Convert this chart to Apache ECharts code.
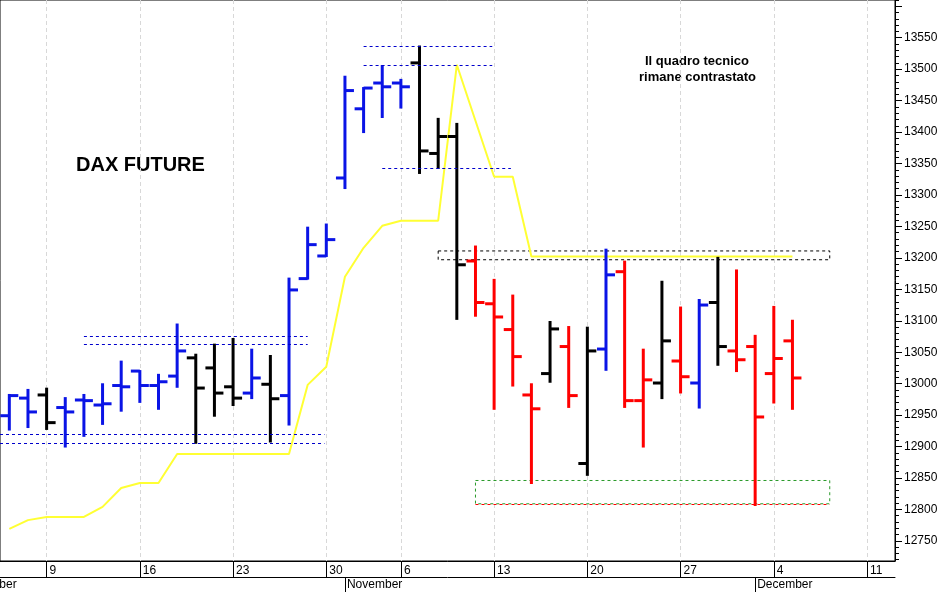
<!DOCTYPE html>
<html>
<head>
<meta charset="utf-8">
<script src="https://cdn.jsdelivr.net/npm/echarts@6/dist/echarts.min.js"></script>
<style>
html,body{margin:0;padding:0;background:#fff;}
#chart{width:945px;height:592px;}
</style>
</head>
<body>
<div id="chart"></div>
<script>
// trading days, Oct 5 .. Dec 12 (Oct 31 closed)
var days = [5,6, 9,10,11,12,13, 16,17,18,19,20, 23,24,25,26,27, 30, 1,2,3,
    6,7,8,9,10, 13,14,15,16,17, 20,21,22,23,24, 27,28,29,30,1, 4,5,6,7,8, 11,12];
var mondays = [2,7,12,17,21,26,31,36,41,46];
var monthStarts = [18,40];
var monthNames = {18:"November",40:"December"};

var opens  = [12949,12977,12982,12962,12974,12966,12997,13020,12997,13012,13041,13025,12995,12985,12999,12981,13167,13203,
    13327,13437,13478,13478,13510,13366,13393,13195,13127,13086,12982,13016,13059,12873,13055,13178,12973,13001,13036,13001,13129,13052,13059,13016,13068];
var highs  = [12982,12990,12992,12977,12982,12999,13035,13020,13014,13094,13046,13062,13071,13054,13044,13167,13248,13253,
    13488,13470,13505,13483,13536,13421,13413,13218,13165,13140,12999,13098,13090,13089,13213,13194,13054,13162,13121,13133,13200,13180,13076,13122,13100];
var lows   = [12927,12931,12928,12900,12917,12936,12957,12971,12960,12995,12906,12949,12966,12977,12908,12935,13167,13203,
    13311,13400,13424,13439,13335,13343,13103,13108,12960,12997,12842,13003,12963,12855,13022,12963,12900,12977,12986,12962,13030,13020,12807,12970,12960];
var closes = [12981,12955,12938,12955,12973,12968,12995,12997,13003,13052,12993,12985,12977,13009,12976,13149,13221,13229,
    13466,13470,13472,13472,13370,13393,13189,13129,13106,13043,12960,13087,12981,13052,13173,12973,13006,13068,13011,13125,13059,13038,12947,13040,13009];
var trend = ["u","u","f","u","u","u","u","u","u","u","f","f","f","u","f","u","u","u",
    "u","u","u","u","f","f","f","d","d","d","d","f","d","f","u","d","d","f","d","u","f","d","d","d","d"];
var stopLine = [12769,12783,12788,12788,12788,12804,12834,12842,12842,12888,12888,12888,12888,12888,12888,12888,12998,13027,
    13170,13216,13251,13259,13259,13259,13507,13418,13329,13329,13202,13202,13202,13202,13202,13202,13202,13202,13202,13202,13202,13202,13202,13202,13202];

var trendColor = {u:"#0a14e6", f:"#000000", d:"#ff0000"};
var yMin = 12718, yMax = 13610;

var bars = [], stop = [];
for (var i = 0; i < opens.length; i++) {
    bars.push([i, opens[i], highs[i], lows[i], closes[i]]);
    stop.push([i, stopLine[i]]);
}
var axisTicks = [], axisLabels = [], minorTicks = [];
for (var v = 12750; v <= 13600; v += 50) axisTicks.push(v);
for (var v2 = 12750; v2 <= 13550; v2 += 50) axisLabels.push(v2);
for (var m = 12720; m <= 13610; m += 10) minorTicks.push(m);

function dashLine(x0, x1, y, color) {
    return [{coord:[x0, y], lineStyle:{color:color, type:[3,3], width:1}}, {coord:[x1, y]}];
}

var chart = echarts.init(document.getElementById("chart"));
chart.setOption({
    animation:false,
    grid:[
        {left:0, top:0, right:50, bottom:31},
        {left:895, top:0, right:0, bottom:31},
        {left:895, top:0, right:0, bottom:31}
    ],
    xAxis:[{
        type:"value", min:-0.5, max:47.5,
        axisLine:{show:true, lineStyle:{color:"#000"}},
        axisTick:{show:true, customValues:mondays, length:16, lineStyle:{color:"#000"}},
        axisLabel:{customValues:mondays, align:"left", margin:4, padding:[0,0,0,3],
            color:"#000", fontFamily:"Liberation Sans", fontSize:12,
            formatter:function(v){ return days[Math.round(v)]; }},
        splitLine:{show:true, lineStyle:{color:"#d8d8d8", type:[4,3]}}
    },{
        type:"value", min:-0.5, max:47.5, position:"bottom", offset:16,
        axisLine:{show:true, lineStyle:{color:"#000"}},
        axisTick:{show:true, customValues:monthStarts, length:15, lineStyle:{color:"#000"}},
        axisLabel:{customValues:monthStarts, align:"left", margin:2, padding:[0,0,0,2],
            color:"#000", fontFamily:"Liberation Sans", fontSize:12,
            formatter:function(v){ return monthNames[Math.round(v)]; }},
        splitLine:{show:false}
    },
    {type:"value", gridIndex:1, min:0, max:1, show:false},
    {type:"value", gridIndex:2, min:0, max:1, show:false}],
    yAxis:[{
        type:"value", min:yMin, max:yMax, show:false
    },{
        type:"value", gridIndex:1, position:"left", min:yMin, max:yMax,
        axisLine:{show:true, lineStyle:{color:"#000"}},
        axisTick:{show:true, inside:true, customValues:axisTicks, length:7, lineStyle:{color:"#000"}},
        axisLabel:{inside:true, customValues:axisLabels, margin:9, color:"#000", fontFamily:"Liberation Sans", fontSize:12,
            formatter:function(v){ return String(v); }},
        splitLine:{show:false}
    },{
        type:"value", gridIndex:2, position:"left", min:yMin, max:yMax,
        axisLine:{show:false},
        axisTick:{show:true, inside:true, customValues:minorTicks, length:4, lineStyle:{color:"#000"}},
        axisLabel:{show:false},
        splitLine:{show:false}
    }],
    graphic:[
        {type:"text", left:-26, top:579, style:{text:"October", font:"12px Liberation Sans", fill:"#000"}},
        {type:"rect", shape:{x:0, y:0, width:895, height:561}, style:{fill:"none", stroke:"#000", lineWidth:1}, silent:true},
        {type:"text", x:76, y:155, style:{text:"DAX FUTURE", font:"bold 20px Liberation Sans", fill:"#000"}},
        {type:"text", x:645, y:55, style:{text:"Il quadro tecnico", font:"bold 13px Liberation Sans", fill:"#000"}},
        {type:"text", x:639, y:71, style:{text:"rimane contrastato", font:"bold 13px Liberation Sans", fill:"#000"}}
    ],
    series:[{
        type:"line", data:stop, symbol:"none",
        lineStyle:{color:"#ffff33", width:2}, z:1,
        markLine:{symbol:"none", silent:true, label:{show:false},
            data:[
                dashLine(4, 16, 13076, "#0000cc"), dashLine(4, 16, 13062, "#0000cc"),
                dashLine(-0.5, 16.9, 12919, "#0000cc"), dashLine(-0.5, 16.9, 12906, "#0000cc"),
                dashLine(19, 25.9, 13536, "#0000cc"), dashLine(19, 25.9, 13507, "#0000cc"),
                dashLine(20, 26.9, 13342, "#0000cc"),
                dashLine(25, 44, 12809, "#ff0000")
            ]},
        markArea:{silent:true, data:[
            [{coord:[23, 13211], itemStyle:{color:"rgba(0,0,0,0)", borderColor:"#000", borderWidth:1, borderType:[3,3]}}, {coord:[44, 13197]}],
            [{coord:[25, 12846], itemStyle:{color:"rgba(0,0,0,0)", borderColor:"#2a9a2a", borderWidth:1, borderType:[3,3]}}, {coord:[44, 12809]}]
        ]}
    },{
        type:"custom", data:bars, z:3,
        encode:{x:0, y:[1,2,3,4]},
        renderItem:function(params, api){
            var i = api.value(0);
            var o = api.coord([i, api.value(1)]);
            var h = api.coord([i, api.value(2)]);
            var l = api.coord([i, api.value(3)]);
            var c = api.coord([i, api.value(4)]);
            var col = trendColor[trend[params.dataIndex]];
            var st = {stroke:col, lineWidth:3};
            return {type:"group", children:[
                {type:"line", shape:{x1:h[0], y1:h[1]-1, x2:l[0], y2:l[1]+1}, style:st},
                {type:"line", shape:{x1:o[0]-9, y1:o[1], x2:o[0], y2:o[1]}, style:st},
                {type:"line", shape:{x1:c[0], y1:c[1], x2:c[0]+9, y2:c[1]}, style:st}
            ]};
        }
    }]
});
</script>
</body>
</html>
